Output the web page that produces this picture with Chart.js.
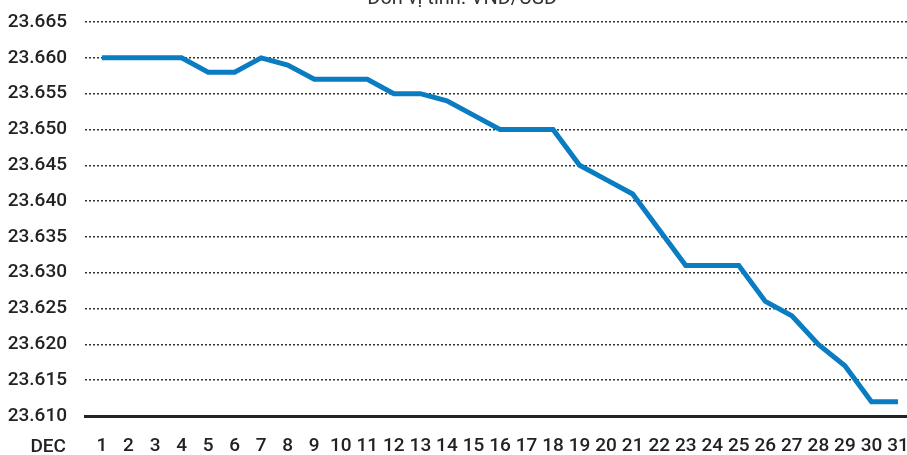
<!DOCTYPE html>
<html>
<head>
<meta charset="utf-8">
<script src="https://cdn.jsdelivr.net/npm/chart.js@4"></script>
<style>
    html, body { margin: 0; padding: 0; background: #fff; }
    #wrap { width: 907px; height: 455px; }
</style>
</head>
<body>
<div id="wrap"><canvas id="rateChart"></canvas></div>
<script>
// Tỷ giá trung tâm VND/USD, tháng 12
const days = [1, 2, 3, 4, 5, 6, 7, 8, 9, 10, 11, 12, 13, 14, 15, 16,
    17, 18, 19, 20, 21, 22, 23, 24, 25, 26, 27, 28, 29, 30, 31];
const rates = [23660, 23660, 23660, 23660, 23658, 23658, 23660, 23659, 23657, 23657,
    23657, 23655, 23655, 23654, 23652, 23650, 23650, 23650, 23645, 23643,
    23641, 23636, 23631, 23631, 23631, 23626, 23624, 23620, 23617, 23612, 23612];
const yTicks = [23610, 23615, 23620, 23625, 23630, 23635, 23640, 23645, 23650, 23655, 23660, 23665];
const monthLabel = 'DEC';
const unitTitle = 'Đơn vị tính: VND/USD';

const FONT = 'Roboto, "DejaVu Sans", sans-serif';

// Chữ phụ: tiêu đề bị cắt ở trên và nhãn "DEC"
const extraText = {
    id: 'extraText',
    afterDraw(chart) {
        const ctx = chart.ctx;
        const area = chart.chartArea;
        ctx.save();
        ctx.fillStyle = '#222';
        ctx.font = '500 19px ' + FONT;
        ctx.textAlign = 'right';
        ctx.textBaseline = 'middle';
        ctx.fillText(monthLabel, 66, area.bottom + 31);
        ctx.textAlign = 'center';
        ctx.textBaseline = 'alphabetic';
        ctx.font = '20px ' + FONT;
        ctx.fillStyle = '#333';
        ctx.fillText(unitTitle, 462, 4);
        ctx.restore();
    }
};

new Chart(document.getElementById('rateChart'), {
    type: 'line',
    data: {
        datasets: [{
            data: days.map((d, i) => ({ x: d, y: rates[i] })),
            borderColor: '#0a7cc2',
            borderWidth: 5,
            pointRadius: 0,
            tension: 0,
            fill: false
        }]
    },
    options: {
        responsive: true,
        maintainAspectRatio: false,
        animation: false,
        layout: { padding: { top: 22, right: 0, bottom: 0, left: 0 } },
        plugins: {
            legend: { display: false },
            tooltip: { enabled: false }
        },
        scales: {
            x: {
                type: 'linear',
                min: 0.36,
                max: 31.34,
                afterBuildTicks: scale => { scale.ticks = days.map(d => ({ value: d })); },
                afterFit: scale => {
                    scale.height = 39;
                    scale.paddingLeft = 0;
                    scale.paddingRight = 0;
                },
                grid: { display: false, drawTicks: false },
                border: { display: true, color: '#222', width: 3 },
                ticks: {
                    autoSkip: false,
                    maxRotation: 0,
                    padding: 19,
                    color: '#222',
                    font: { family: FONT, size: 19, weight: 500 },
                    callback: v => String(v)
                }
            },
            y: {
                min: 23610,
                max: 23665,
                afterBuildTicks: scale => { scale.ticks = yTicks.map(v => ({ value: v })); },
                afterFit: scale => {
                    scale.width = 85;
                    scale.paddingTop = 0;
                    scale.paddingBottom = 0;
                },
                grid: {
                    color: '#333',
                    lineWidth: 1.5,
                    drawTicks: false
                },
                border: { display: false, dash: [2, 2] },
                ticks: {
                    padding: 18,
                    color: '#222',
                    font: { family: FONT, size: 19, weight: 500 },
                    callback: v => (v / 1000).toFixed(3)
                }
            }
        }
    },
    plugins: [extraText]
});
</script>
</body>
</html>
